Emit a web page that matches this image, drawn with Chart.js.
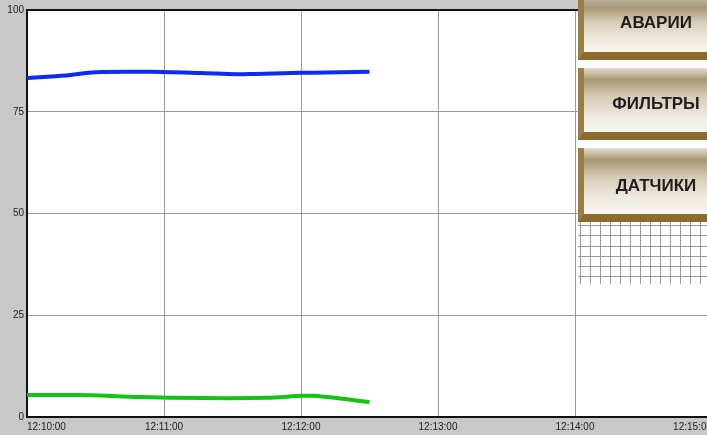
<!DOCTYPE html>
<html>
<head>
<meta charset="utf-8">
<script src="https://cdn.jsdelivr.net/npm/chart.js@4"></script>
<style>
    html, body { margin: 0; padding: 0; overflow: hidden; background: #c8c8c8; }
    body { width: 707px; height: 435px; position: relative; font-family: "Liberation Sans", Arial, sans-serif; }
    #wrap { position: absolute; left: 0; top: 0; width: 720px; height: 435px; }
    .btn {
        position: absolute; left: 578px; width: 150px;
        border-left: 6px solid #9a7c45;
        border-bottom: 8px solid #8d6b2f;
        box-sizing: border-box;
        background: linear-gradient(to bottom, #7f6c49 0%, #a8987554 0%, #a89875 18%, #d6ccb7 45%, #eee9de 75%, #f8f6f1 100%);
        color: #1e1e1e; font-size: 17px; font-weight: bold; text-align: center;
    }
    .btn span { position: absolute; left: 0; right: 0; }
    #grid {
        position: absolute; left: 578px; top: 222px; width: 130px; height: 62px;
        background-color: #fff;
        background-image:
            repeating-linear-gradient(to right, #999 0 1px, transparent 1px 10px),
            repeating-linear-gradient(to bottom, #999 0 1px, transparent 1px 10.3px);
        background-position: 2px 3px;
    }
</style>
</head>
<body>
<div id="wrap"><canvas id="trend" width="720" height="435"></canvas></div>
<div class="btn" style="top:-2px;height:62px"><span style="top:15px">АВАРИИ</span></div>
<div class="btn" style="top:68px;height:72px"><span style="top:26px">ФИЛЬТРЫ</span></div>
<div class="btn" style="top:148px;height:74px"><span style="top:28px">ДАТЧИКИ</span></div>
<div id="grid"></div>
<script>
// seconds from 12:10:00
const blueTimes = [0, 17, 30, 54, 76, 92, 100, 116, 125, 150];
const blueValues = [83.3, 83.9, 84.7, 84.8, 84.5, 84.2, 84.3, 84.5, 84.6, 84.8];
const greenTimes = [0, 23, 45, 65, 105, 120, 126, 150];
const greenValues = [5.4, 5.4, 5.0, 4.7, 4.7, 5.2, 5.2, 3.7];
const timeLabels = ["12:10:00", "12:11:00", "12:12:00", "12:13:00", "12:14:00", "12:15:00"];
const yTicks = [0, 25, 50, 75, 100];

function toPoints(times, values) {
    return times.map((t, i) => ({ x: t, y: values[i] }));
}

const plotFrame = {
    id: "plotFrame",
    beforeDraw(chart) {
        const a = chart.chartArea;
        const ctx = chart.ctx;
        ctx.save();
        ctx.fillStyle = "#fff";
        ctx.fillRect(a.left, a.top, a.right - a.left, a.bottom - a.top);
        ctx.restore();
    },
    afterDraw(chart) {
        const a = chart.chartArea;
        const ctx = chart.ctx;
        ctx.save();
        ctx.strokeStyle = "#111";
        ctx.lineWidth = 2;
        ctx.beginPath();
        ctx.moveTo(a.left - 1, a.top);
        ctx.lineTo(a.right, a.top);
        ctx.stroke();
        ctx.restore();
    }
};

const chart = new Chart(document.getElementById("trend").getContext("2d"), {
    type: "line",
    data: {
        datasets: [
            { data: toPoints(blueTimes, blueValues), borderColor: "#0c2cf6", borderWidth: 4, tension: 0.3, pointRadius: 0 },
            { data: toPoints(greenTimes, greenValues), borderColor: "#14c414", borderWidth: 4, tension: 0.3, pointRadius: 0 }
        ]
    },
    options: {
        responsive: false,
        animation: false,
        devicePixelRatio: 1,
        layout: { padding: { top: 10, right: 8, left: 0, bottom: 0 } },
        plugins: { legend: { display: false }, tooltip: { enabled: false } },
        scales: {
            x: {
                type: "linear", min: 0, max: 300,
                afterFit: s => { s.height = 18; },
                afterBuildTicks: s => { s.ticks = timeLabels.map((_, i) => ({ value: i * 60 })); },
                ticks: {
                    align: "inner", maxRotation: 0, padding: 4,
                    color: "#222", font: { family: "Liberation Sans", size: 10 },
                    callback: v => timeLabels[Math.round(v / 60)]
                },
                grid: { color: "#999", lineWidth: 1, drawTicks: false },
                border: { color: "#111", width: 2 }
            },
            y: {
                min: 0, max: 100,
                afterFit: s => { s.width = 27; },
                afterBuildTicks: s => { s.ticks = yTicks.map(v => ({ value: v })); },
                ticks: { padding: 3, color: "#222", font: { family: "Liberation Sans", size: 10 } },
                grid: { color: "#999", lineWidth: 1, drawTicks: false },
                border: { color: "#111", width: 2 }
            }
        }
    },
    plugins: [plotFrame]
});
</script>
</body>
</html>
